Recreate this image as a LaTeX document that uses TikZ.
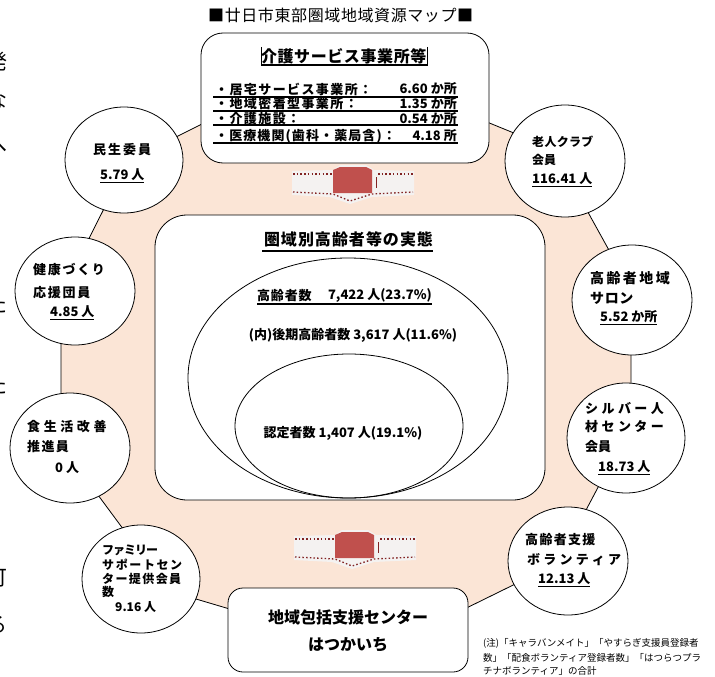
\documentclass[tikz,border=0pt]{standalone}
\usepackage{fontspec}
\setmainfont{Noto Sans CJK JP}
\usetikzlibrary{shapes.geometric}
\definecolor{peach}{RGB}{251,229,214}
\definecolor{arrred}{RGB}{192,80,77}
\definecolor{dotred}{RGB}{130,35,35}
\definecolor{halo}{RGB}{244,242,241}
\makeatletter
\newcommand\trk[2]{\def\trk@k{#1}\@tfor\trk@c:=#2\do{\trk@c\kern\trk@k}}
\makeatother
\newcommand\fs[1]{\fontsize{#1}{#1}\selectfont}
\newcommand\twoarrow{%
  \fill[halo] (292,171) -- (333,170) -- (340,165) -- (366,165) -- (374,170) -- (414,171) -- (414,195) -- (372,197) -- (350,204) -- (330,197) -- (292,195) -- cycle;
  \draw[dotline] (293,174) -- (333,174);
  \draw[dotline] (378,174) -- (413,174);
  \draw[dotline] (293,192) -- (333,194) -- (350,201) -- (372,194) -- (413,192);
  \fill[arrred] (333,170) -- (340,167) -- (366,167) -- (372,170) -- (372,193) -- (333,193) -- cycle;
  \draw[dotred, line width=1pt] (376,177) -- (376,188);
}
\begin{document}
\begin{tikzpicture}[x=1pt,y=-1pt,
  outl/.style={draw=black, line width=0.8pt},
  circ/.style={ellipse, draw=black, line width=0.8pt, fill=white, inner sep=0pt},
  rbox/.style={draw=black, line width=0.8pt, fill=white, rectangle, inner sep=0pt},
  lab/.style={inner sep=0pt, anchor=west, font=\fs{13}\bfseries},
  labc/.style={inner sep=0pt, font=\fs{13}\bfseries},
  num/.style={inner sep=0pt, anchor=west, font=\fs{13}\bfseries},
  dotline/.style={dotred, line width=1.3pt, dash pattern=on 1.5pt off 2.2pt},
  uline/.style={line width=1.1pt},
  frag/.style={inner sep=0pt, font=\fs{21}}
]
\useasboundingbox (0,0) rectangle (715,677);
\fill[white] (0,0) rectangle (715,677);

% neighbouring text, cut off at the left edge as in the reference
\begin{scope}
\clip (0,0) rectangle (715,677);
\node[frag] (f1) at (-3,62) {発};
\node[frag] (f2) at (-3,101) {な};
\node[frag] (f3) at (-3,146) {へ};
\node[frag] (f4) at (-3,305) {た};
\node[frag] (f5) at (-3,386) {た};
\node[frag] (f6) at (-3,578) {可};
\node[frag] (f7) at (-3,625) {る};
\end{scope}

% title
\node[inner sep=0pt, font=\fs{16}] (title) at (341,15) {\trk{0.6pt}{■廿日市東部圏域地域資源マップ■}};

% peach ring
\fill[peach] (128,161) -- (230,110) -- (460,111) -- (553,149) -- (631,290) -- (631,425)
  -- (558,563) -- (440,621) -- (260,618) -- (169,591) -- (61,445) -- (61,294) -- cycle;
\draw[outl] (128,161) -- (230,110) -- (460,111) -- (553,149) -- (631,290) -- (631,425)
  -- (558,563) -- (440,621) -- (260,618) -- (169,591) -- (61,445) -- (61,294) -- cycle;

% middle box
\draw[outl, fill=white, rounded corners=32pt] (155,215) rectangle (545,500);
\node[inner sep=0pt] (midbox) at (350,357.5) {};
\node[labc, font=\fs{16}\bfseries] (midtitle) at (349,239) {\trk{1pt}{圏域別高齢者等の実態}};
\draw[uline] (262,251) -- (433,251);
\node[circ, minimum width=320pt, minimum height=240pt, fill=none] (big) at (348,378) {};
\node[circ, minimum width=228pt, minimum height=144pt, fill=none] (small) at (349,426) {};
\node[lab] (k1) at (257,296) {\trk{0.8pt}{高齢者数}};
\node[inner sep=0pt, anchor=east, font=\fs{13}\bfseries] (k2) at (432,296) {7,422 人(23.7\%)};
\draw[uline] (257,304) -- (432,304);
\node[labc] (k3) at (353,335) {(内)後期高齢者数 3,617 人(11.6\%)};
\node[labc] (k4) at (343,433) {認定者数 1,407 人(19.1\%)};

% arrows
\twoarrow
\begin{scope}[shift={(2,365)}]
\twoarrow
\end{scope}

% top box
\node[rbox, rounded corners=22pt, minimum width=288pt, minimum height=130pt] (topbox) at (345,98) {};
\node[labc, font=\fs{16}\bfseries] (toptitle) at (344,56) {\trk{0.6pt}{介護サービス事業所等}};
\draw[line width=0.8pt] (261,47) -- (261,66);
\draw[line width=0.8pt] (427,47) -- (427,66);
\draw[line width=2pt] (261,65) -- (427,65);
\node[lab] (r1) at (215,89) {\trk{1.4pt}{・居宅サービス事業所：}};
\node[inner sep=0pt, anchor=east, font=\fs{13}\bfseries] (v1) at (457,89) {6.60 か所};
\node[lab] (r2) at (215,104) {\trk{1.4pt}{・地域密着型事業所：}};
\node[inner sep=0pt, anchor=east, font=\fs{13}\bfseries] (v2) at (457,104) {1.35 か所};
\node[lab] (r3) at (215,119) {\trk{1.4pt}{・介護施設：}};
\node[inner sep=0pt, anchor=east, font=\fs{13}\bfseries] (v3) at (457,119) {0.54 か所};
\node[lab] (r4) at (215,136) {\trk{1.1pt}{・医療機関(歯科・薬局含)：}};
\node[inner sep=0pt, anchor=east, font=\fs{13}\bfseries] (v4) at (457,136) {4.18 所};
\draw[uline] (213,97) -- (458,97);
\draw[uline] (213,111) -- (458,111);
\draw[uline] (213,125) -- (458,125);
\draw[uline] (213,143) -- (458,143);

% bottom box
\node[rbox, rounded corners=15pt, minimum width=240pt, minimum height=84pt] (botbox) at (348,630) {};
\node[inner sep=0pt, font=\fs{16}\bfseries] (b1) at (348,617) {地域包括支援センター};
\node[inner sep=0pt, font=\fs{16}\bfseries] (b2) at (348,645) {はつかいち};

% circles
\node[circ, minimum width=118pt, minimum height=106pt] (c1) at (124,160) {};
\node[circ, minimum width=120pt, minimum height=108pt] (c2) at (75,291) {};
\node[circ, minimum width=120pt, minimum height=110pt] (c3) at (70,448) {};
\node[circ, minimum width=118pt, minimum height=108pt] (c4) at (141,579) {};
\node[circ, minimum width=120pt, minimum height=112pt] (c5) at (565,161) {};
\node[circ, minimum width=120pt, minimum height=110pt] (c6) at (632,300) {};
\node[circ, minimum width=118pt, minimum height=110pt] (c7) at (626,438) {};
\node[circ, minimum width=120pt, minimum height=108pt] (c8) at (568,561) {};

% circle texts
\node[lab] (t11) at (93,150) {\trk{2pt}{民生委員}};
\node[num] (t12) at (100,176) {\underline{5.79 人}};

\node[lab] (t21) at (33,270) {\trk{1.7pt}{健康づくり}};
\node[lab] (t22) at (33,293) {\trk{1.7pt}{応援団員}};
\node[num] (t23) at (50,313) {\underline{4.85 人}};

\node[lab] (t31) at (27,427) {\trk{3.6pt}{食生活改善}};
\node[lab] (t32) at (27,447) {\trk{1.4pt}{推進員}};
\node[num] (t33) at (55,468) {0 人};

\node[lab, font=\fs{12}\bfseries] (t41) at (102,550) {\trk{-1pt}{ファミリー}};
\node[lab, font=\fs{12}\bfseries] (t42) at (102,565) {\trk{1.6pt}{サポートセン}};
\node[lab, font=\fs{12}\bfseries] (t43) at (102,579) {\trk{1.4pt}{ター提供会員}};
\node[lab, font=\fs{12}\bfseries] (t44) at (102,592) {数};
\node[num, font=\fs{12}\bfseries] (t45) at (115,607) {9.16 人};

\node[lab, font=\fs{12}\bfseries] (t51) at (532,142) {\trk{0.3pt}{老人クラブ}};
\node[lab, font=\fs{12}\bfseries] (t52) at (532,160) {会員};
\node[num] (t53) at (532,180) {\underline{116.41 人}};

\node[lab, font=\fs{14}\bfseries] (t61) at (590,278) {\trk{2.4pt}{高齢者地域}};
\node[lab, font=\fs{14}\bfseries] (t62) at (590,298) {\trk{0.6pt}{サロン}};
\node[num] (t63) at (600,318) {\underline{5.52 か所}};

\node[lab] (t71) at (585,408) {\trk{3.4pt}{シルバー人}};
\node[lab] (t72) at (585,427) {\trk{3.4pt}{材センター}};
\node[lab] (t73) at (585,447) {会員};
\node[num] (t74) at (598,468) {\underline{18.73 人}};

\node[lab] (t81) at (525,540) {\trk{1.3pt}{高齢者支援}};
\node[lab] (t82) at (527,560) {\trk{3.2pt}{ボランティア}};
\node[num] (t83) at (538,580) {\underline{12.13 人}};

% note
\node[inner sep=0pt, anchor=west, font=\fs{9.5}] (n1) at (483,643) {(注)「キャラバンメイト」「やすらぎ支援員登録者};
\node[inner sep=0pt, anchor=west, font=\fs{9.5}] (n2) at (483,658) {数」「配食ボランティア登録者数」「はつらつプラ};
\node[inner sep=0pt, anchor=west, font=\fs{9.5}] (n3) at (483,671) {チナボランティア」の合計};
\end{tikzpicture}
\end{document}
